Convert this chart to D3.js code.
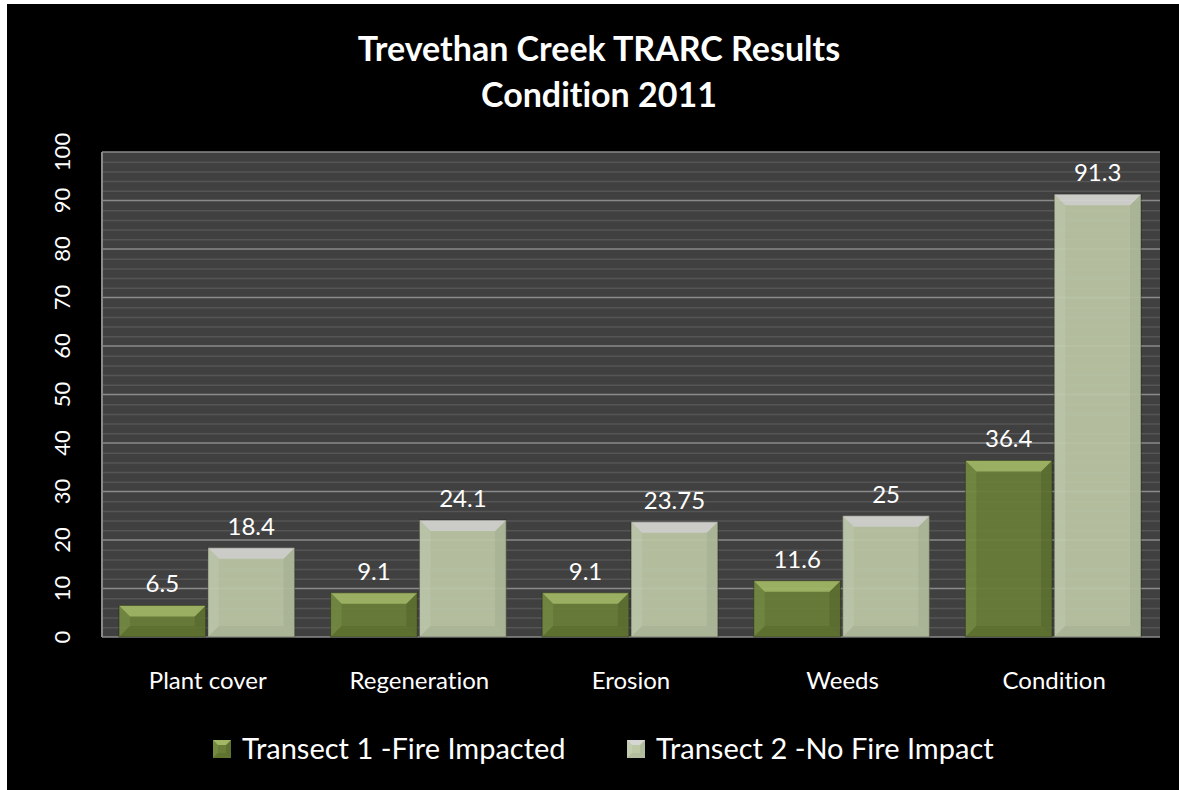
<!DOCTYPE html>
<html>
<head>
    <meta charset="utf-8">
    <title>Trevethan Creek TRARC Results</title>
    <script src="https://cdn.jsdelivr.net/npm/d3@7"></script>
    <style>
        * { margin: 0; padding: 0; }
        body { background: #fff; }
        svg { display: block; }
        text { font-variant-ligatures: none; font-feature-settings: "liga" 0; }
    </style>
</head>
<body>
    <div id="chart"></div>
    <script>
        var categories = ["Plant cover", "Regeneration", "Erosion", "Weeds", "Condition"];
        var seriesNames = ["Transect 1 -Fire Impacted", "Transect 2 -No Fire Impact"];
        var transect1 = [6.5, 9.1, 9.1, 11.6, 36.4];
        var transect2 = [18.4, 24.1, 23.75, 25, 91.3];
        var yTicks = [0, 10, 20, 30, 40, 50, 60, 70, 80, 90, 100];

        var W = 1179, H = 790;
        var margin = { top: 152, right: 19, bottom: 153, left: 102 };
        var width = W - margin.left - margin.right,
            height = H - margin.top - margin.bottom;
        var font = "Lato, 'Open Sans', sans-serif";

        // colours: face, top bevel, left, right, bottom
        var styles = [
            { face: "#6a7e39", top: "#a2b865", left: "#738a40", right: "#5e7130", bottom: "#61742f" },
            { face: "#bcc7a6", top: "#d6d7d2", left: "#c2ccae", right: "#b1bc9c", bottom: "#b3bd9d" }
        ];

        var svg = d3.select("#chart").append("svg")
            .attr("width", W).attr("height", H);

        // white edge then black background
        svg.append("rect").attr("width", W).attr("height", H).attr("fill", "#fff");
        svg.append("rect").attr("x", 7).attr("y", 4).attr("width", W - 7).attr("height", H - 4).attr("fill", "#000");

        var g = svg.append("g").attr("transform", "translate(" + margin.left + "," + margin.top + ")");

        var x = d3.scaleBand().domain(categories).range([0, width]).paddingInner(0).paddingOuter(0);
        var x1 = d3.scaleBand().domain([0, 1]).range([17, x.bandwidth() - 19]).paddingInner(0.025);
        var y = d3.scaleLinear().domain([0, 100]).range([height, 0]);

        // plot background
        g.append("rect").attr("width", width).attr("height", height).attr("fill", "#404040");

        // minor grid
        var minor = d3.range(0, 101, 2).filter(function (d) { return d % 10 != 0; });
        g.append("g").selectAll("line").data(minor).enter().append("line")
            .attr("x1", 0).attr("x2", width)
            .attr("y1", function (d) { return y(d) + 0.5; })
            .attr("y2", function (d) { return y(d) + 0.5; })
            .attr("stroke", "#555").attr("stroke-width", 1.5);

        // major grid
        g.append("g").selectAll("line").data(yTicks).enter().append("line")
            .attr("x1", 0).attr("x2", width)
            .attr("y1", function (d) { return y(d); })
            .attr("y2", function (d) { return y(d); })
            .attr("stroke", "#8a8a8a").attr("stroke-width", 1.5);

        // left axis line
        g.append("line").attr("x1", 0).attr("x2", 0).attr("y1", 0).attr("y2", height)
            .attr("stroke", "#8a8a8a").attr("stroke-width", 2);

        // y tick labels (rotated)
        g.append("g").selectAll("text").data(yTicks).enter().append("text")
            .attr("transform", function (d) { return "translate(-32," + y(d) + ") rotate(-90)"; })
            .attr("text-anchor", "middle")
            .attr("fill", "#fff")
            .attr("font-family", font)
            .attr("font-size", 22)
            .text(function (d) { return d; });

        // bars
        var series = [transect1, transect2];
        var bev = 11;
        series.forEach(function (vals, si) {
            var st = styles[si];
            var bars = g.append("g").selectAll("g").data(vals).enter().append("g")
                .attr("opacity", 0.93);
            function bx(d, i) { return x(categories[i]) + x1(si); }
            var bw = x1.bandwidth();
            bars.append("rect")
                .attr("x", bx)
                .attr("y", function (d) { return y(d); })
                .attr("width", bw)
                .attr("height", function (d) { return y(0) - y(d); })
                .attr("fill", st.face);
            function poly(kind) {
                return function (d, i) {
                    var x0 = bx(d, i), x2 = x0 + bw, t = y(d), b = y(0);
                    var e = Math.min(bev, (b - t) / 2);
                    var p;
                    if (kind == "top") p = [[x0, t], [x2, t], [x2 - e, t + e], [x0 + e, t + e]];
                    if (kind == "bottom") p = [[x0, b], [x2, b], [x2 - e, b - e], [x0 + e, b - e]];
                    if (kind == "left") p = [[x0, t], [x0 + e, t + e], [x0 + e, b - e], [x0, b]];
                    if (kind == "right") p = [[x2, t], [x2 - e, t + e], [x2 - e, b - e], [x2, b]];
                    return p.map(function (q) { return q.join(","); }).join(" ");
                };
            }
            ["left", "right", "bottom", "top"].forEach(function (k) {
                bars.append("polygon").attr("points", poly(k)).attr("fill", st[k]);
            });
            bars.append("rect")
                .attr("x", bx)
                .attr("y", function (d) { return y(d); })
                .attr("width", bw)
                .attr("height", function (d) { return y(0) - y(d); })
                .attr("fill", "none").attr("stroke", "rgba(0,0,0,0.35)").attr("stroke-width", 1);

            // value labels
            g.append("g").selectAll("text").data(vals).enter().append("text")
                .attr("x", function (d, i) { return bx(d, i) + bw / 2; })
                .attr("y", function (d) { return y(d) - 13; })
                .attr("text-anchor", "middle")
                .attr("fill", "#fff")
                .attr("font-family", font)
                .attr("font-size", 24)
                .text(function (d) { return d; });
        });

        // x labels
        g.append("g").selectAll("text").data(categories).enter().append("text")
            .attr("x", function (d) { return x(d) + x.bandwidth() / 2; })
            .attr("y", height + 52)
            .attr("text-anchor", "middle")
            .attr("fill", "#fff")
            .attr("font-family", font)
            .attr("font-size", 24)
            .text(function (d) { return d; });

        // title
        var title = svg.append("text")
            .attr("text-anchor", "middle")
            .attr("fill", "#fff")
            .attr("font-family", font)
            .attr("font-weight", "bold")
            .attr("font-size", 34);
        title.append("tspan").attr("x", 599).attr("y", 61).text("Trevethan Creek TRARC Results");
        title.append("tspan").attr("x", 599).attr("y", 107).text("Condition 2011");

        // legend
        var legX = [213, 627];
        var lg = svg.append("g").selectAll("g").data(seriesNames).enter().append("g")
            .attr("transform", function (d, i) { return "translate(" + legX[i] + ",740)"; });
        var s = 18, e = 5;
        lg.each(function (d, i) {
            var st = styles[i];
            var node = d3.select(this);
            var pts = {
                top: [[0, 0], [s, 0], [s - e, e], [e, e]],
                bottom: [[0, s], [s, s], [s - e, s - e], [e, s - e]],
                left: [[0, 0], [e, e], [e, s - e], [0, s]],
                right: [[s, 0], [s - e, e], [s - e, s - e], [s, s]]
            };
            node.append("rect").attr("width", s).attr("height", s).attr("fill", st.face);
            ["left", "right", "bottom", "top"].forEach(function (k) {
                node.append("polygon")
                    .attr("points", pts[k].map(function (q) { return q.join(","); }).join(" "))
                    .attr("fill", st[k]);
            });
        });
        lg.append("text")
            .attr("x", 29)
            .attr("y", 19)
            .attr("fill", "#fff")
            .attr("font-family", font)
            .attr("font-size", 29)
            .text(function (d) { return d; });
    </script>
</body>
</html>
